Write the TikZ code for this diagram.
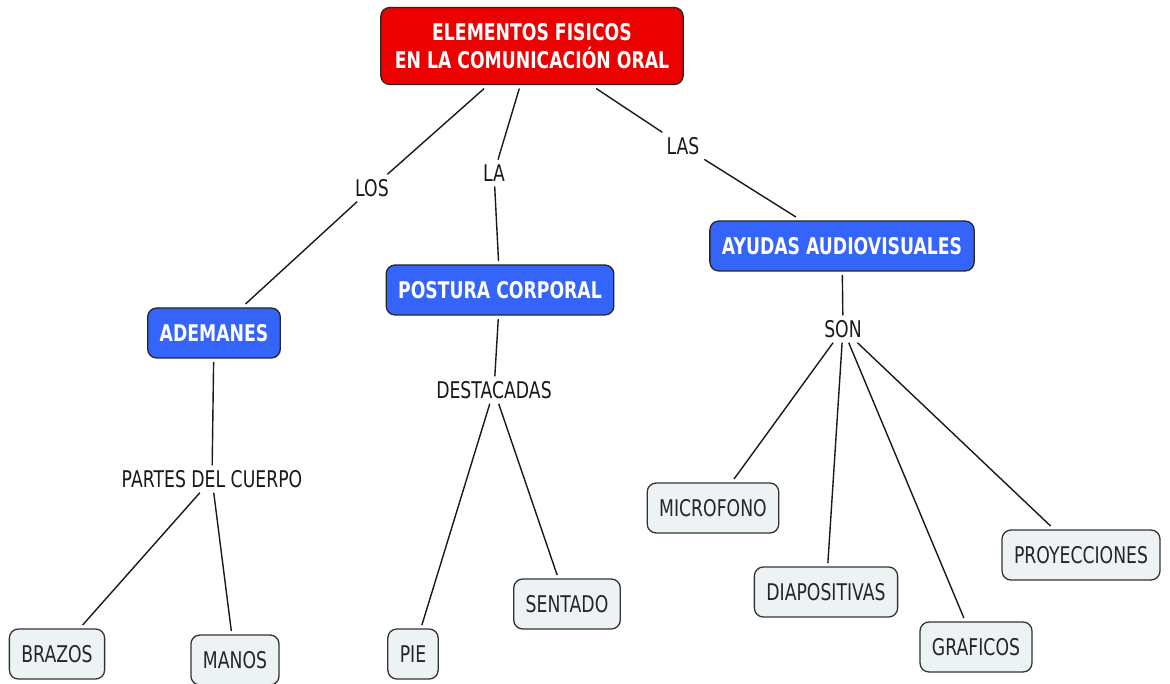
\documentclass[tikz,border=0pt]{standalone}
\usepackage{fontspec}
\setmainfont{DejaVu Sans}[FakeStretch=0.75]
\usepackage{tikz}

\definecolor{mapred}{RGB}{236,0,0}
\definecolor{mapblue}{RGB}{52,100,250}
\definecolor{mapleaf}{RGB}{237,242,245}
\definecolor{mapline}{RGB}{25,25,25}

\begin{document}
\begin{tikzpicture}[x=1pt, y=-1pt]

            % Styles for the boxes, the linking words and the lines
            \tikzset{
                concept/.style={draw=black!85, line width=1.3pt, rounded corners=9pt,
                    text=white, font=\fontsize{23pt}{28pt}\selectfont\bfseries,
                    minimum height=50pt, inner xsep=12pt, outer sep=4pt},
                mainbox/.style={concept, fill=mapred, minimum height=77pt,
                    inner xsep=14pt, align=center},
                subbox/.style={concept, fill=mapblue},
                leaf/.style={draw=black!80, line width=1.3pt, rounded corners=9pt,
                    fill=mapleaf, text=black!85, font=\fontsize{23pt}{28pt}\selectfont,
                    minimum height=50pt, inner xsep=12pt, outer sep=4pt},
                linkword/.style={font=\fontsize{23pt}{28pt}\selectfont, text=black!90,
                    inner sep=3pt, outer sep=2pt},
                link/.style={draw=mapline, line width=1.4pt}
            }

            % Page frame, same size as the picture
            \useasboundingbox (0, 0) rectangle (1170, 684);

            % Top of the map
            \node (fisicos) at (532, 46) [mainbox] {ELEMENTOS FISICOS\\EN LA COMUNICACIÓN ORAL};

            % The three branches
            \begin{scope}
                \node (ademanes) at (214, 333) [subbox] {ADEMANES};
                \node (postura) at (500, 290) [subbox] {POSTURA CORPORAL};
                \node (ayudas) at (842, 246) [subbox] {AYUDAS AUDIOVISUALES};

                \node (los) at (372, 188) [linkword] {LOS};
                \node (la) at (494, 173) [linkword] {LA};
                \node (las) at (683, 146) [linkword] {LAS};
            \end{scope}

            % Linking words under the branches
            \begin{scope}
                \node (partes) at (212, 479) [linkword] {PARTES DEL CUERPO};
                \node (destacadas) at (494, 390) [linkword] {DESTACADAS};
                \node (son) at (843, 329) [linkword] {SON};
            \end{scope}

            % Leaves at the bottom
            \begin{scope}
                \node (brazos) at (57, 654) [leaf] {BRAZOS};
                \node (manos) at (235, 660) [leaf] {MANOS};
                \node (pie) at (413, 654) [leaf] {PIE};
                \node (sentado) at (567, 604) [leaf] {SENTADO};
                \node (microfono) at (713, 508) [leaf] {MICROFONO};
                \node (diapositivas) at (826, 592) [leaf] {DIAPOSITIVAS};
                \node (graficos) at (976, 647) [leaf] {GRAFICOS};
                \node (proyecciones) at (1081, 555) [leaf] {PROYECCIONES};
            \end{scope}

            % Lines between the boxes, through the linking words
            \begin{scope}[link]
                \draw (fisicos) -- (los);
                \draw (los) -- (ademanes);
                \draw (fisicos) -- (la);
                \draw (la) -- (postura);
                \draw (fisicos) -- (las);
                \draw (las) -- (ayudas);

                \draw (ademanes) -- (partes);
                \draw (partes) -- (brazos);
                \draw (partes) -- (manos);

                \draw (postura) -- (destacadas);
                \draw (destacadas) -- (pie);
                \draw (destacadas) -- (sentado);

                \draw (ayudas) -- (son);
                \draw (son) -- (microfono);
                \draw (son) -- (diapositivas);
                \draw (son) -- (graficos);
                \draw (son) -- (proyecciones);
            \end{scope}

\end{tikzpicture}
\end{document}
